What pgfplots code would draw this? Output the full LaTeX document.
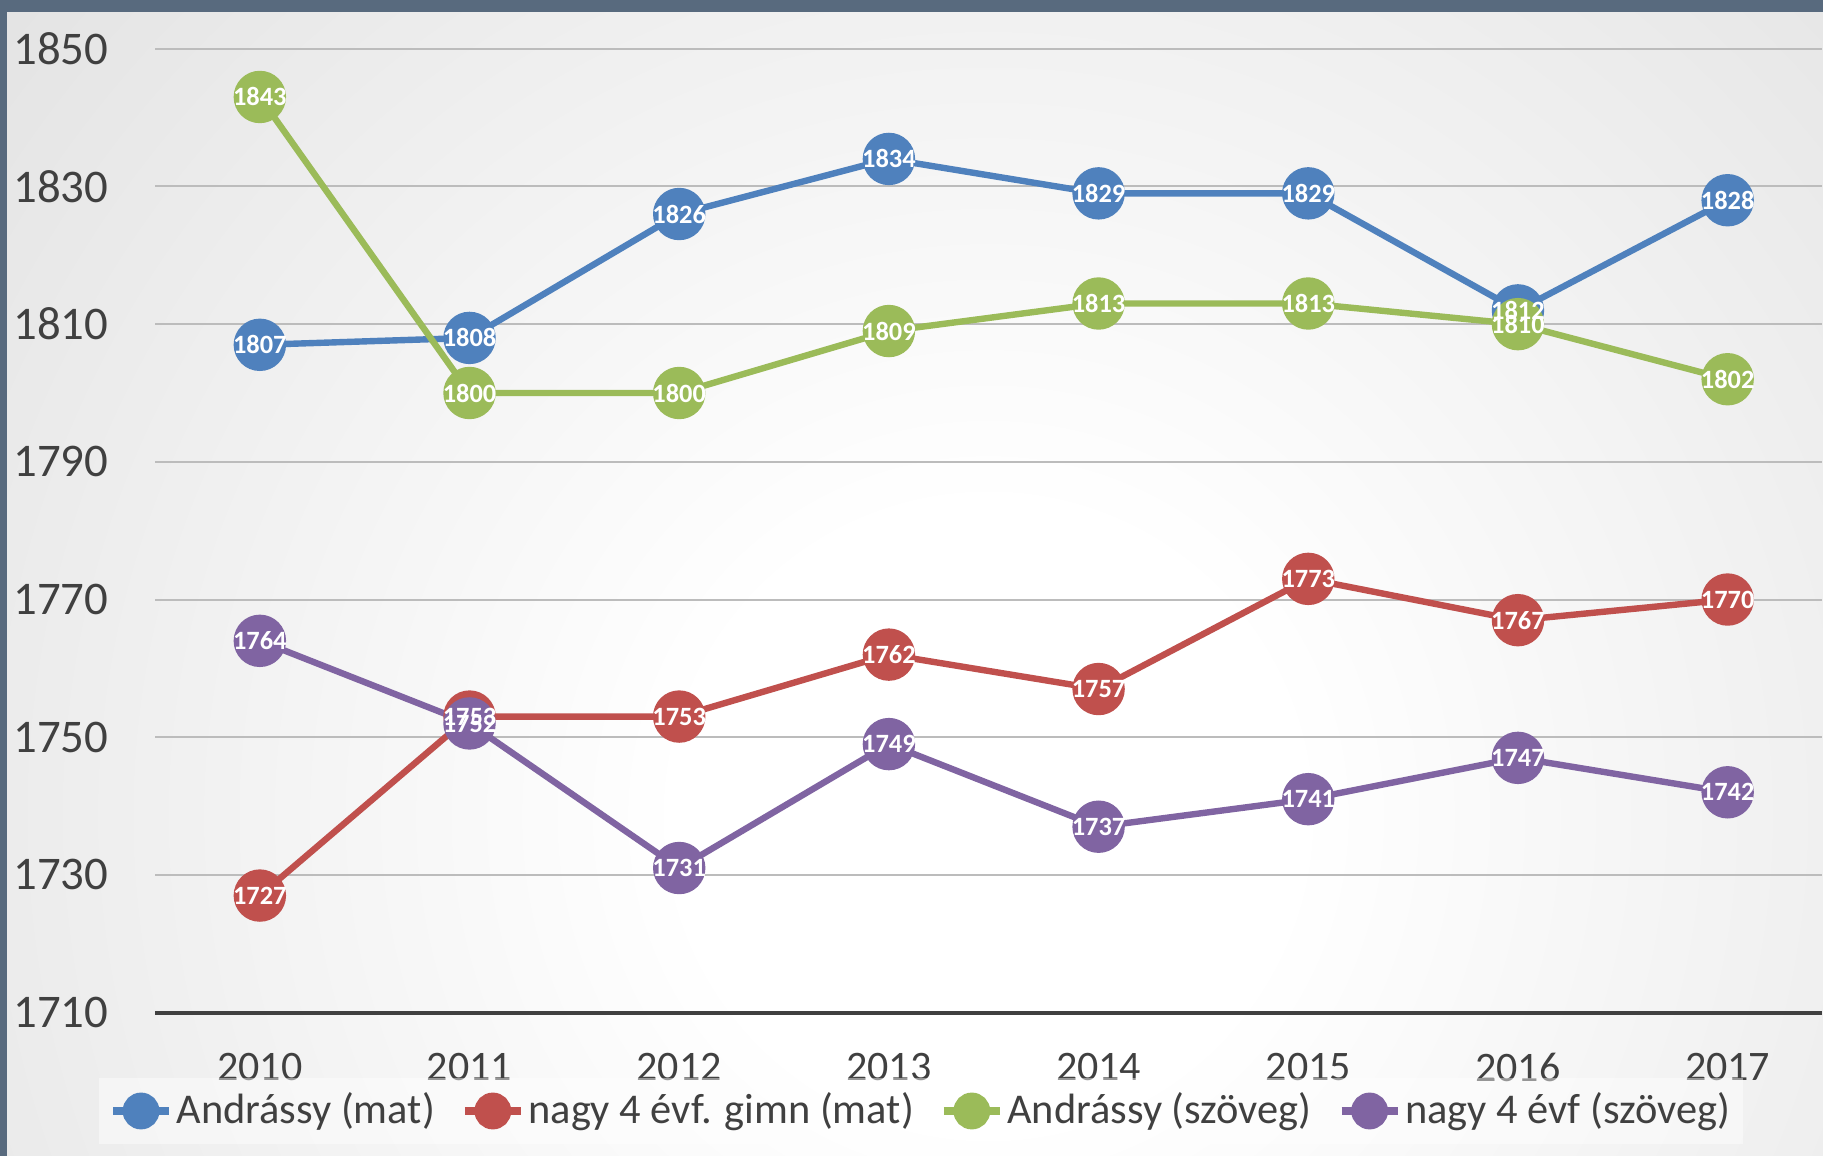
\documentclass[border=0pt]{standalone}
\usepackage{fontspec}
\setmainfont{Carlito}
\usepackage{pgfplots}
\pgfplotsset{compat=1.18}
\definecolor{cblue}{HTML}{4F81BD}
\definecolor{cred}{HTML}{C0504D}
\definecolor{cgreen}{HTML}{9BBB59}
\definecolor{cpurple}{HTML}{8064A2}
\definecolor{txtgrey}{HTML}{404040}
\definecolor{gridgrey}{HTML}{BCBCBC}
\definecolor{strip}{RGB}{88,106,126}
\pgfdeclareradialshading{bgshade}{\pgfpoint{0bp}{0bp}}{color(0bp)=(white); color(6bp)=(white); color(50bp)=(black!25)}
\pgfplotsset{
  ser/.style={color=#1, line width=1.6pt, mark=*, mark size=5.75pt, mark options={fill=#1, draw=none}},
  lab/.style={draw=none, mark=none, forget plot, nodes near coords,
    every node near coord/.append style={anchor=center, inner sep=0pt, font=\bfseries\fontsize{6.6}{7}\selectfont, text=white}},
}
\begin{document}
\begin{tikzpicture}
\begin{scope}
\clip (0,0) rectangle (455.75pt,289pt);
\shade[shading=bgshade] (247pt,85pt) circle (320pt);
\fill[strip] (0,0) rectangle (1.75pt,289pt);
\fill[strip] (0,286pt) rectangle (455.75pt,289pt);
\end{scope}
\begin{axis}[
  at={(38.75pt,35.85pt)}, anchor=south west,
  scale only axis, width=416.75pt, height=240.95pt,
  xmin=-0.5, xmax=7.45, ymin=1710, ymax=1850,
  clip=false,
  ytick={1710,1730,1750,1770,1790,1810,1830,1850},
  xtick={0,1,2,3,4,5,6,7},
  xticklabels={2010,2011,2012,2013,2014,2015,2016,2017},
  /pgf/number format/.cd, 1000 sep={}, assume math mode=true, /pgfplots/.cd,
  axis x line*=bottom, axis y line*=left,
  x axis line style={draw=txtgrey, line width=1pt},
  y axis line style={draw=none},
  major tick length=0pt,
  ymajorgrids, grid style={draw=gridgrey, line width=0.5pt},
  yticklabel style={anchor=east, inner sep=0pt, xshift=-11.5pt, font=\fontsize{11.7}{13}\selectfont, text=txtgrey},
  xticklabel style={anchor=north, inner sep=0pt, yshift=-10pt, font=\fontsize{10.5}{12}\selectfont, text=txtgrey},
  legend style={at={(0.4595,-0.1021)}, anchor=center, legend columns=4, fill=white, fill opacity=0.45, text opacity=1, draw=none, font=\fontsize{10.6}{12}\selectfont, text=txtgrey, inner xsep=2.5pt, inner ysep=2pt, nodes={inner xsep=0.8pt, inner ysep=1.5pt}, /tikz/every even column/.append style={column sep=5.6pt}},
  legend cell align=left,
  legend image code/.code={\draw[fill opacity=1, line width=2.2pt, mark size=3.5pt, mark repeat=2, mark phase=2] plot coordinates {(0pt,0pt) (7pt,0pt) (14pt,0pt)};},
]
\addplot[ser=cblue] coordinates {(0,1807) (1,1808) (2,1826) (3,1834) (4,1829) (5,1829) (6,1812) (7,1828)};
\addlegendentry{Andrássy (mat)}
\addplot[ser=cred] coordinates {(0,1727) (1,1753) (2,1753) (3,1762) (4,1757) (5,1773) (6,1767) (7,1770)};
\addlegendentry{nagy 4 évf. gimn (mat)}
\addplot[ser=cgreen] coordinates {(0,1843) (1,1800) (2,1800) (3,1809) (4,1813) (5,1813) (6,1810) (7,1802)};
\addlegendentry{Andrássy (szöveg)}
\addplot[ser=cpurple] coordinates {(0,1764) (1,1752) (2,1731) (3,1749) (4,1737) (5,1741) (6,1747) (7,1742)};
\addlegendentry{nagy 4 évf (szöveg)}
% data labels drawn above all markers
\addplot[lab] coordinates {(0,1807) (1,1808) (2,1826) (3,1834) (4,1829) (5,1829) (6,1812) (7,1828)};
\addplot[lab] coordinates {(0,1727) (1,1753) (2,1753) (3,1762) (4,1757) (5,1773) (6,1767) (7,1770)};
\addplot[lab] coordinates {(0,1843) (1,1800) (2,1800) (3,1809) (4,1813) (5,1813) (6,1810) (7,1802)};
\addplot[lab] coordinates {(0,1764) (1,1752) (2,1731) (3,1749) (4,1737) (5,1741) (6,1747) (7,1742)};
\end{axis}
\pgfresetboundingbox
\useasboundingbox (0,0) rectangle (455.75pt,289pt);
\end{tikzpicture}
\end{document}
